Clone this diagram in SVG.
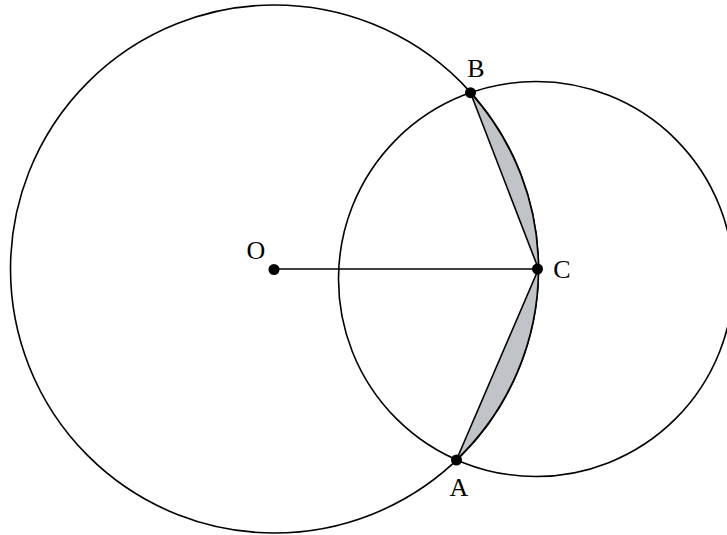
<svg xmlns="http://www.w3.org/2000/svg" width="727" height="535" viewBox="0 0 727 535">
<style>
.ln{fill:none;stroke:#000;stroke-width:1.6}
.sh{fill:#c0c3c7;stroke:#000;stroke-width:1.6;stroke-linejoin:round}
.pt{fill:#000}
.lb{font-family:"Liberation Serif","Times New Roman",serif;font-size:26px;fill:#000;text-anchor:middle}
</style>
<rect width="727" height="535" fill="#fff"/>
<g id="circle-O"><circle class="ln" cx="274.5" cy="269" r="264"/></g>
<g id="circle-small"><circle class="ln" cx="536" cy="279" r="197.5"/></g>
<g id="segments">
<path class="sh" d="M470.5 92.7 A264 264 0 0 1 538.5 269 Z"/>
<path class="sh" d="M538.5 269 A264 264 0 0 1 456.5 459.8 Z"/>
<line class="ln" x1="274" y1="269" x2="538.5" y2="269"/>
</g>
<g id="O"><circle class="pt" cx="274" cy="269.5" r="5.5"/><text class="lb" x="256" y="259">O</text></g>
<g id="C"><circle class="pt" cx="537.5" cy="269" r="5.5"/><text class="lb" x="562" y="278">C</text></g>
<g id="B"><circle class="pt" cx="470.5" cy="92.7" r="5.5"/><text class="lb" x="476" y="77">B</text></g>
<g id="A"><circle class="pt" cx="456.5" cy="460" r="5.5"/><text class="lb" x="459" y="496">A</text></g>
</svg>
